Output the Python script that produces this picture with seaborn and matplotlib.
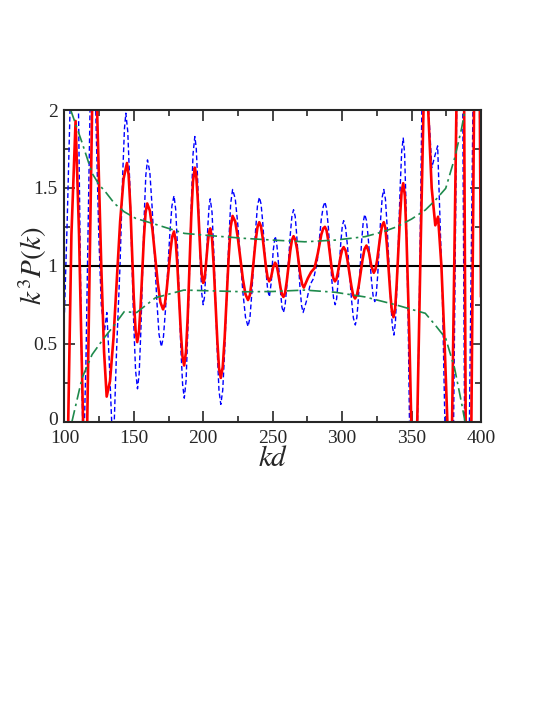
import matplotlib
matplotlib.use('Agg')
import matplotlib.pyplot as plt
import matplotlib.transforms as mtransforms
import seaborn as sns
from matplotlib.ticker import MultipleLocator, FormatStrFormatter

# red solid curve
red_x = [100.0, 102.7, 105.0, 108.0, 110.5, 113.4, 114.8, 116.4, 119.9, 121.7, 123.5, 126.5, 128.5, 130.4,
         132.8, 135.3, 140.1, 142.6, 145.0, 146.2, 147.5, 149.9, 151.2, 152.4, 153.6, 154.8, 157.2, 158.4,
         159.6, 161.5, 163.4, 167.2, 169.1, 171.0, 172.3, 173.6, 176.3, 177.6, 178.9, 180.1, 181.3, 183.8,
         185.0, 186.2, 187.5, 188.8, 191.3, 192.6, 193.9, 194.9, 195.9, 197.9, 198.9, 199.9, 200.8, 201.6,
         203.3, 204.2, 205.0, 206.3, 207.5, 210.1, 211.3, 212.6, 214.0, 215.4, 218.3, 219.7, 221.1, 223.0,
         224.8, 228.5, 230.4, 232.2, 233.6, 234.9, 237.6, 239.0, 240.3, 241.5, 242.7, 245.1, 246.3, 247.5,
         248.9, 250.3, 251.7, 252.7, 253.7, 255.7, 256.7, 257.7, 258.9, 260.1, 262.6, 263.8, 265.0, 266.2,
         267.5, 269.9, 271.2, 272.4, 275.3, 277.7, 280.1, 282.5, 285.0, 286.4, 287.6, 288.8, 290.0, 292.4,
         293.6, 294.8, 295.9, 296.9, 299.0, 300.1, 301.1, 302.5, 303.8, 306.6, 307.9, 309.3, 310.7, 312.0,
         314.8, 316.1, 317.5, 319.3, 321.0, 322.8, 324.0, 325.2, 327.6, 328.8, 330.0, 331.2, 332.3, 334.7,
         335.8, 337.0, 338.2, 339.3, 341.7, 342.8, 344.0, 345.2, 346.3, 348.4, 349.8, 352.0, 354.1, 356.5,
         358.6, 360.3, 362.0, 364.5, 367.1, 369.1, 371.5, 373.6, 375.8, 377.5, 379.2, 382.3, 385.1, 387.9,
         389.0, 391.0, 393.1, 395.0, 397.2, 399.2, 400.0]
red_y = [-1.2, 0.0, 1.2, 1.93, 1.2, 0.0, -0.5, 0.0, 2.0, 2.5, 2.0, 1.0, 0.45, 0.16,
         0.26, 0.535, 1.285, 1.56, 1.66, 1.583, 1.373, 0.798, 0.587, 0.51, 0.57, 0.733, 1.178, 1.34,
         1.40, 1.354, 1.23, 0.89, 0.766, 0.72, 0.754, 0.845, 1.095, 1.187, 1.22, 1.162, 1.005, 0.575,
         0.418, 0.36, 0.445, 0.678, 1.313, 1.545, 1.63, 1.58, 1.445, 1.075, 0.94, 0.89, 0.913, 0.978,
         1.153, 1.217, 1.24, 1.176, 1.0, 0.52, 0.344, 0.28, 0.35, 0.54, 1.06, 1.25, 1.32, 1.284,
         1.185, 0.915, 0.816, 0.78, 0.813, 0.905, 1.155, 1.247, 1.28, 1.255, 1.185, 0.995, 0.925, 0.90,
         0.93, 0.99, 1.02, 1.005, 0.965, 0.855, 0.815, 0.80, 0.826, 0.898, 1.093, 1.164, 1.19, 1.168,
         1.108, 0.943, 0.882, 0.86, 0.92, 0.96, 0.985, 1.08, 1.20, 1.24, 1.25, 1.227, 1.163, 0.988,
         0.923, 0.90, 0.915, 0.955, 1.065, 1.105, 1.12, 1.098, 1.038, 0.873, 0.812, 0.79, 0.813, 0.875,
         1.045, 1.107, 1.13, 1.086, 0.999, 0.955, 0.977, 1.036, 1.199, 1.258, 1.28, 1.239, 1.128, 0.823,
         0.711, 0.67, 0.728, 0.885, 1.315, 1.472, 1.53, 1.45, 1.2, 0.55, 0.0, -0.6, 0.0, 1.1,
         2.0, 2.3, 2.0, 1.5, 1.26, 1.315, 1.0, 0.55, 0.0, -0.8, 0.0, 2.0, 3.2, 2.0,
         0.0, -1.0, 0.0, 2.0, 3.0, 2.0, 0.8]

# blue dashed curve
blue_x = [100.0, 102.0, 104.0, 107.0, 110.1, 112.0, 113.6, 115.5, 118.4, 120.5, 122.5, 124.7, 126.5,
          128.8, 130.5, 132.2, 134.0, 135.5, 137.5, 140.0, 142.0, 143.2, 144.2,
          145.6, 147.0, 149.8, 151.2, 152.6, 153.8, 155.0, 157.4, 158.6, 159.8, 161.5, 163.1, 166.5, 168.1,
          169.8, 171.3, 172.8, 175.9, 177.4, 178.9, 180.1, 181.4, 183.8, 185.1, 186.3, 187.6, 188.8, 191.4,
          192.6, 193.9, 194.9, 195.9, 197.9, 198.9, 199.9, 200.8, 201.6, 203.3, 204.2, 205.0, 206.3, 207.5,
          210.1, 211.3, 212.6, 214.0, 215.4, 218.3, 219.7, 221.1, 223.0, 224.8, 228.5, 230.4, 232.2, 233.6,
          234.9, 237.7, 239.0, 240.4, 241.6, 242.8, 245.2, 246.4, 247.6, 249.0, 250.3, 251.7, 252.7, 253.7,
          255.7, 256.7, 257.7, 258.9, 260.1, 262.6, 263.8, 265.0, 266.2, 267.3, 269.6, 270.8, 271.9, 274.5,
          277.0, 279.5, 282.0, 285.0, 286.4, 287.6, 288.8, 290.1, 292.5, 293.8, 295.0, 296.0, 297.0, 299.1,
          300.1, 301.1, 302.5, 303.9, 306.7, 308.1, 309.5, 310.6, 311.8, 314.0, 315.2, 316.3, 317.5, 318.7,
          321.1, 322.3, 323.5, 324.6, 325.7, 327.8, 328.9, 330.0, 331.2, 332.4, 334.9, 336.1, 337.3, 338.4,
          339.5, 341.8, 342.9, 344.0, 345.0, 346.0, 347.5, 348.5, 351.3, 354.3, 356.0, 357.4, 359.7, 362.3,
          364.6, 366.6, 368.8, 370.5, 372.2, 374.0, 377.0, 380.3, 382.5, 384.6, 386.9, 388.2, 390.0, 391.7,
          394.2, 396.5, 399.0, 400.0]
blue_y = [0.70, 1.3, 2.0, 2.8, 2.0, 0.6, -0.3, 0.4, 2.0, 2.7, 2.0, 1.2, 0.75,
          0.58, 0.70, 0.4, 0.0, -0.1, 0.45, 1.0, 1.6, 1.88, 1.98,
          1.861, 1.538, 0.653, 0.329, 0.21, 0.308, 0.578, 1.313, 1.582, 1.68, 1.60, 1.38, 0.78, 0.56,
          0.48, 0.545, 0.723, 1.208, 1.385, 1.45, 1.363, 1.125, 0.475, 0.237, 0.15, 0.263, 0.57, 1.41,
          1.717, 1.83, 1.758, 1.56, 1.02, 0.822, 0.75, 0.796, 0.92, 1.26, 1.384, 1.43, 1.342, 1.10,
          0.44, 0.198, 0.11, 0.202, 0.455, 1.145, 1.398, 1.49, 1.431, 1.27, 0.83, 0.669, 0.61, 0.666,
          0.818, 1.233, 1.384, 1.44, 1.397, 1.28, 0.96, 0.843, 0.80, 0.898, 1.093, 1.19, 1.157, 1.068,
          0.823, 0.733, 0.70, 0.744, 0.865, 1.195, 1.316, 1.36, 1.316, 1.195, 0.865, 0.744, 0.70, 0.78,
          0.88, 0.92, 1.02, 1.30, 1.38, 1.41, 1.366, 1.245, 0.915, 0.794, 0.75, 0.786, 0.885, 1.155,
          1.254, 1.29, 1.245, 1.123, 0.788, 0.665, 0.62, 0.668, 0.798, 1.153, 1.282, 1.33, 1.292, 1.19,
          0.91, 0.808, 0.77, 0.818, 0.95, 1.31, 1.442, 1.49, 1.427, 1.256, 0.789, 0.618, 0.555, 0.64,
          0.871, 1.504, 1.735, 1.82, 1.72, 1.4, 0.7, 0.0, -0.9, 0.0, 1.0, 2.0, 2.5, 2.0,
          1.63, 1.70, 1.77, 1.3, 0.82, 0.0, -1.0, 0.0, 2.0, 3.2, 2.0, 0.0, -1.0, 0.0,
          2.0, 3.2, 2.0, 1.0]

# green dash-dot envelopes
env_hi_x = [104.5, 112.7, 119.9, 125.0, 129.5, 136.0, 143.0, 151.2, 165.6, 186.4, 210.0, 229.8,
            250.0, 273.1, 295.0, 316.5, 330.0, 339.2, 350.0, 359.9, 367.0, 374.6, 381.0, 386.0, 388.3]
env_hi_y = [2.0, 1.79, 1.594, 1.52, 1.475, 1.40, 1.347, 1.305, 1.266, 1.208, 1.19, 1.176,
            1.165, 1.154, 1.165, 1.187, 1.22, 1.25, 1.30, 1.358, 1.42, 1.497, 1.69, 1.88, 1.99]
env_lo_x = [105.4, 112.7, 119.9, 128.3, 136.0, 143.0, 152.0, 165.6, 186.0, 230.0, 250.0, 273.0,
            295.0, 316.5, 339.2, 350.0, 359.9, 367.0, 374.6, 381.0, 386.0, 388.5]
env_lo_y = [0.0, 0.28, 0.43, 0.534, 0.62, 0.705, 0.70, 0.795, 0.844, 0.833, 0.835, 0.844,
            0.83, 0.80, 0.748, 0.72, 0.695, 0.62, 0.534, 0.342, 0.12, 0.0]

sns.set_theme(style="ticks")
plt.rcParams['font.family'] = ['Liberation Serif', 'DejaVu Serif']
plt.rcParams['mathtext.fontset'] = 'stix'

fig = plt.figure(figsize=(5.45, 7.05), dpi=100)
ax = fig.add_axes([0.1183, 0.4021, 0.7642, 0.4418])

sns.lineplot(x=blue_x, y=blue_y, ax=ax, color='#0000ff', lw=1.0, sort=False,
             estimator=None, linestyle=(0, (3.5, 2)))
ax.axhline(1.0, color='black', lw=1.5)
sns.lineplot(x=red_x, y=red_y, ax=ax, color='#ff0000', lw=1.9, sort=False, estimator=None)
sns.lineplot(x=env_hi_x, y=env_hi_y, ax=ax, color='#1e8a4c', lw=1.2, sort=False,
             estimator=None, linestyle=(0, (7, 2.5, 1.5, 2.5)))
sns.lineplot(x=env_lo_x, y=env_lo_y, ax=ax, color='#1e8a4c', lw=1.2, sort=False,
             estimator=None, linestyle=(0, (7, 2.5, 1.5, 2.5)))

ax.set_xlim(100, 400)
ax.set_ylim(0, 2)
ax.xaxis.set_major_locator(MultipleLocator(50))
ax.xaxis.set_minor_locator(MultipleLocator(25))
ax.set_yticks([0, 0.5, 1, 1.5, 2])
ax.yaxis.set_minor_locator(MultipleLocator(0.25))
ax.yaxis.set_major_formatter(FormatStrFormatter('%g'))
ax.tick_params(which='both', direction='in', top=True, right=True, labelsize=14, width=1.2)
ax.tick_params(which='major', length=8)
ax.tick_params(which='minor', length=4)
ax.tick_params(axis='x', pad=6)
ax.tick_params(axis='y', pad=5)
for s in ax.spines.values():
    s.set_linewidth(1.5)

# nudge the "0" on y up a touch so it does not sit on top of "100"
lab0 = ax.yaxis.get_major_ticks()[0].label1
lab0.set_transform(lab0.get_transform() +
                   mtransforms.ScaledTranslation(0, 3 / 100, fig.dpi_scale_trans))

ax.set_xlabel(r'$kd$', fontsize=21)
ax.set_ylabel(r'$k^3P(k)$', fontsize=21)
ax.xaxis.set_label_coords(0.5, -0.078)
ax.yaxis.set_label_coords(-0.038, 0.5)

fig.savefig('out.png', dpi=100)
